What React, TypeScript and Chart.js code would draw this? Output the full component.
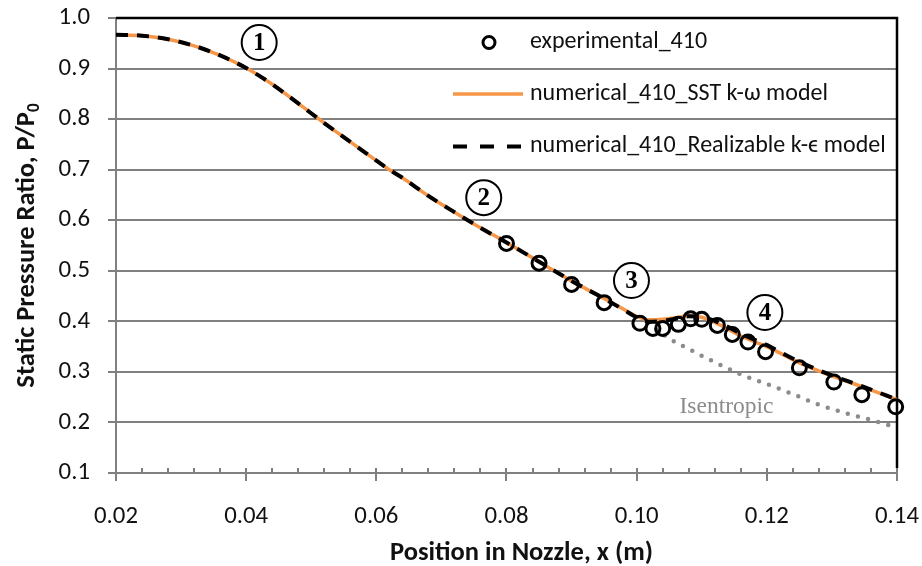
import React, { useEffect, useRef } from 'react';
import { Chart, registerables } from 'chart.js';

Chart.register(...registerables);

// ---- data ----
const xNumerical = [0.02, 0.024, 0.028, 0.032, 0.036, 0.04, 0.044, 0.048, 0.052, 0.056, 0.06, 0.062, 0.064, 0.068, 0.072, 0.076, 0.08, 0.085, 0.09, 0.095, 0.098, 0.1, 0.102, 0.104, 0.106, 0.108, 0.11, 0.112, 0.114, 0.116, 0.118, 0.12, 0.125, 0.13, 0.135, 0.14];
const ySST = [0.967, 0.965, 0.958, 0.945, 0.926, 0.901, 0.869, 0.831, 0.792, 0.755, 0.718, 0.7, 0.684, 0.648, 0.616, 0.585, 0.556, 0.518, 0.48, 0.445, 0.424, 0.41, 0.403, 0.404, 0.407, 0.411, 0.408, 0.398, 0.385, 0.371, 0.36, 0.35, 0.318, 0.292, 0.269, 0.245];
const yRKE = [0.967, 0.965, 0.958, 0.945, 0.926, 0.901, 0.869, 0.831, 0.792, 0.755, 0.718, 0.7, 0.684, 0.648, 0.616, 0.585, 0.556, 0.518, 0.48, 0.445, 0.423, 0.408, 0.399, 0.401, 0.405, 0.41, 0.409, 0.401, 0.389, 0.376, 0.364, 0.353, 0.32, 0.293, 0.27, 0.245];
const xExperimental = [0.08, 0.085, 0.09, 0.095, 0.1005, 0.1025, 0.104, 0.1064, 0.1083, 0.11, 0.1124, 0.1147, 0.1171, 0.1198, 0.125, 0.1303, 0.1346, 0.1398];
const yExperimental = [0.554, 0.515, 0.473, 0.437, 0.396, 0.386, 0.386, 0.394, 0.405, 0.404, 0.392, 0.374, 0.359, 0.34, 0.308, 0.28, 0.255, 0.231];
const xIsentropic = [0.103, 0.105, 0.107, 0.11, 0.113, 0.116, 0.12, 0.124, 0.128, 0.132, 0.136, 0.14];
const yIsentropic = [0.384, 0.366, 0.352, 0.332, 0.313, 0.295, 0.276, 0.256, 0.235, 0.219, 0.205, 0.19];

const xTickValues = [0.02, 0.04, 0.06, 0.08, 0.1, 0.12, 0.14];
const yTickValues = [0.1, 0.2, 0.3, 0.4, 0.5, 0.6, 0.7, 0.8, 0.9, 1.0];
const yGridValues = [0.2, 0.3, 0.4, 0.5, 0.6, 0.7, 0.8, 0.9];

const regionLabels = ['1', '2', '3', '4'];
const regionX = [0.042, 0.0765, 0.0992, 0.1197];
const regionY = [0.9515, 0.6446, 0.4808, 0.4174];

const isentropicLabel = 'Isentropic';
const isentropicLabelX = 0.1138;
const isentropicLabelY = 0.2313;

const legendLabels = ['experimental_410', 'numerical_410_SST k-ω model', 'numerical_410_Realizable k-ϵ model'];
const xTitle = 'Position in Nozzle, x (m)';
const yTitleMain = 'Static Pressure Ratio, P/P';
const yTitleSub = '0';

// ---- styling ----
const SANS = 'Carlito, Lato, "Open Sans", sans-serif';
const SERIF = '"Liberation Serif", "Times New Roman", serif';
const ORANGE = '#F79646';
const GRID = '#808080';
const TEXT = '#111111';

function fitSize(text: string, weight: string, target: number, family: string) {
  const c = document.createElement('canvas').getContext('2d')!;
  c.font = `${weight} 100px ${family}`;
  const w = c.measureText(text).width;
  return (100 * target) / w;
}

const toPts = (xs: number[], ys: number[]) => xs.map((x, i) => ({ x, y: ys[i] }));

export default function App() {
  const ref = useRef<HTMLCanvasElement | null>(null);

  useEffect(() => {
    const canvas = ref.current;
    if (!canvas) return;

    const tickSize = fitSize('0.02', 'normal', 44, SANS);
    const titleSize = fitSize(xTitle, 'bold', 263, SANS);
    const legendSize = fitSize(legendLabels[2], 'normal', 356, SANS);
    const isenSize = fitSize(isentropicLabel, 'normal', 94, SERIF);

    const overlay = {
      id: 'overlay',
      beforeDatasetsDraw(chart: any) {
        const { ctx, chartArea: a } = chart;
        const xs = chart.scales.x;
        const ys = chart.scales.y;
        ctx.save();
        // horizontal gridlines through the y scale
        ctx.strokeStyle = GRID;
        ctx.lineWidth = 2;
        ctx.setLineDash([]);
        for (const v of yGridValues) {
          const py = Math.round(ys.getPixelForValue(v));
          ctx.beginPath();
          ctx.moveTo(a.left, py);
          ctx.lineTo(a.right, py);
          ctx.stroke();
        }
        // minor ticks on x axis
        for (let i = 0; i <= 30; i++) {
          const v = 0.02 + i * 0.004;
          const px = Math.round(xs.getPixelForValue(v));
          ctx.beginPath();
          ctx.moveTo(px, a.bottom - 5);
          ctx.lineTo(px, a.bottom);
          ctx.stroke();
        }
        // black top and right border
        ctx.strokeStyle = '#000';
        ctx.lineWidth = 2.5;
        ctx.beginPath();
        ctx.moveTo(a.left, Math.round(ys.getPixelForValue(1.0)));
        ctx.lineTo(a.right, Math.round(ys.getPixelForValue(1.0)));
        ctx.lineTo(a.right, a.bottom - 5);
        ctx.stroke();
        ctx.restore();
      },
      afterDatasetsDraw(chart: any) {
        const { ctx, chartArea: a } = chart;
        const xs = chart.scales.x;
        const ys = chart.scales.y;
        ctx.save();
        // circled region numbers
        regionLabels.forEach((t, i) => {
          const cx = xs.getPixelForValue(regionX[i]);
          const cy = ys.getPixelForValue(regionY[i]);
          ctx.beginPath();
          ctx.arc(cx, cy, 17.5, 0, Math.PI * 2);
          ctx.fillStyle = '#fff';
          ctx.fill();
          ctx.lineWidth = 2;
          ctx.strokeStyle = '#000';
          ctx.stroke();
          ctx.fillStyle = '#000';
          ctx.font = `bold 25px ${SERIF}`;
          ctx.textAlign = 'center';
          ctx.textBaseline = 'middle';
          ctx.fillText(t, cx, cy + 1);
        });
        // isentropic label
        ctx.fillStyle = '#8c8c8c';
        ctx.font = `normal ${isenSize}px ${SERIF}`;
        ctx.textAlign = 'center';
        ctx.textBaseline = 'middle';
        ctx.fillText(isentropicLabel, xs.getPixelForValue(isentropicLabelX), ys.getPixelForValue(isentropicLabelY));

        // legend
        const lx0 = a.left + 337;
        const lx1 = a.left + 407;
        const tx = a.left + 414;
        const rows = [a.top + 24.5, a.top + 76, a.top + 128.5];
        ctx.font = `normal ${legendSize}px ${SANS}`;
        ctx.fillStyle = TEXT;
        ctx.textAlign = 'left';
        ctx.textBaseline = 'middle';
        legendLabels.forEach((t, i) => ctx.fillText(t, tx, rows[i]));
        ctx.beginPath();
        ctx.arc(a.left + 373, rows[0], 6, 0, Math.PI * 2);
        ctx.lineWidth = 3;
        ctx.strokeStyle = '#000';
        ctx.stroke();
        ctx.beginPath();
        ctx.moveTo(lx0, rows[1]);
        ctx.lineTo(lx1, rows[1]);
        ctx.strokeStyle = ORANGE;
        ctx.lineWidth = 3.5;
        ctx.stroke();
        ctx.beginPath();
        ctx.setLineDash([14, 13]);
        ctx.moveTo(lx0, rows[2]);
        ctx.lineTo(lx1 + 1, rows[2]);
        ctx.strokeStyle = '#000';
        ctx.lineWidth = 4;
        ctx.stroke();
        ctx.setLineDash([]);

        // axis titles
        ctx.fillStyle = TEXT;
        ctx.font = `bold ${titleSize}px ${SANS}`;
        ctx.textAlign = 'center';
        ctx.textBaseline = 'alphabetic';
        ctx.fillText(xTitle, (a.left + a.right) / 2 + 15, 560);

        const mainFont = `bold ${titleSize}px ${SANS}`;
        const subFont = `bold ${titleSize * 0.65}px ${SANS}`;
        ctx.font = mainFont;
        const w1 = ctx.measureText(yTitleMain).width;
        ctx.font = subFont;
        const w2 = ctx.measureText(yTitleSub).width;
        const total = w1 + w2;
        ctx.translate(34, (a.top + a.bottom) / 2);
        ctx.rotate(-Math.PI / 2);
        ctx.textAlign = 'left';
        ctx.font = mainFont;
        ctx.fillText(yTitleMain, -total / 2, 0);
        ctx.font = subFont;
        ctx.fillText(yTitleSub, -total / 2 + w1, titleSize * 0.18);
        ctx.restore();
      },
    };

    const chart = new Chart(canvas, {
      type: 'scatter',
      data: {
        datasets: [
          {
            label: legendLabels[0],
            data: toPts(xExperimental, yExperimental),
            showLine: false,
            pointStyle: 'circle',
            pointRadius: 7,
            pointBorderWidth: 3,
            borderColor: '#000',
            backgroundColor: 'rgba(0,0,0,0)',
            clip: false,
          } as any,
          {
            label: legendLabels[2],
            data: toPts(xNumerical, yRKE),
            showLine: true,
            pointRadius: 0,
            borderColor: '#000',
            borderWidth: 4,
            borderDash: [12, 9],
            cubicInterpolationMode: 'monotone',
            fill: false,
            clip: false,
          },
          {
            label: legendLabels[1],
            data: toPts(xNumerical, ySST),
            showLine: true,
            pointRadius: 0,
            borderColor: ORANGE,
            borderWidth: 3.5,
            cubicInterpolationMode: 'monotone',
            fill: false,
            clip: false,
          },
          {
            label: isentropicLabel,
            data: toPts(xIsentropic, yIsentropic),
            showLine: true,
            pointRadius: 0,
            borderColor: '#8c8c8c',
            borderWidth: 4.5,
            borderDash: [0, 10.5],
            borderCapStyle: 'round',
            cubicInterpolationMode: 'monotone',
            fill: false,
            clip: false,
          },
        ],
      },
      options: {
        animation: false,
        responsive: true,
        maintainAspectRatio: false,
        layout: { padding: { top: 18, right: 25, left: 0, bottom: 0 } },
        plugins: { legend: { display: false }, tooltip: { enabled: false } },
        events: [],
        scales: {
          x: {
            type: 'linear',
            min: 0.02,
            max: 0.14,
            afterBuildTicks: (s: any) => {
              s.ticks = xTickValues.map((v) => ({ value: v }));
            },
            afterFit: (s: any) => {
              s.height = 93;
              s.paddingLeft = 0;
              s.paddingRight = 0;
              s.paddingTop = 0;
              s.paddingBottom = 0;
            },
            ticks: {
              callback: (v: any) => Number(v).toFixed(2),
              font: { family: SANS, size: tickSize },
              color: TEXT,
              padding: 21,
              maxRotation: 0,
            },
            grid: { display: true, drawOnChartArea: false, drawTicks: true, tickLength: 8, color: GRID, lineWidth: 2 },
            border: { display: true, color: GRID, width: 2 },
          },
          y: {
            type: 'linear',
            min: 0.1,
            max: 1.0,
            afterBuildTicks: (s: any) => {
              s.ticks = yTickValues.map((v) => ({ value: v }));
            },
            afterFit: (s: any) => {
              s.width = 116;
              s.paddingLeft = 0;
              s.paddingRight = 0;
              s.paddingTop = 0;
              s.paddingBottom = 0;
            },
            ticks: {
              callback: (v: any) => Number(v).toFixed(1),
              font: { family: SANS, size: tickSize },
              color: TEXT,
              padding: 18,
            },
            grid: { display: true, drawOnChartArea: true, color: GRID, lineWidth: 2, tickLength: 8, drawTicks: true },
            border: { display: true, color: GRID, width: 2 },
          },
        },
      },
      plugins: [overlay],
    });

    return () => chart.destroy();
  }, []);

  return (
    <div style={{ position: 'fixed', left: 0, top: 0, width: 922, height: 566, background: '#fff' }}>
      <canvas ref={ref} />
    </div>
  );
}
